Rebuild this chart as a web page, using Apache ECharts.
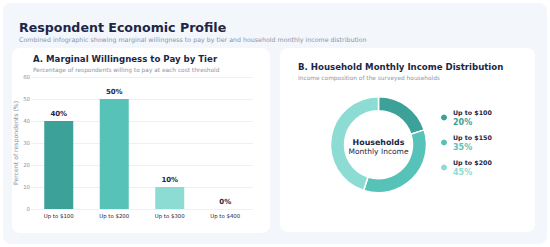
<!DOCTYPE html>
<html>
<head>
<meta charset="utf-8">
<script src="https://cdn.jsdelivr.net/npm/echarts@6/dist/echarts.min.js"></script>
<style>
html,body{margin:0;padding:0;background:#ffffff;}
#c{width:550px;height:247px;}
</style>
</head>
<body>
<div id="c"></div>
<script>
// ---- data ----
const tiers = ['Up to $100', 'Up to $200', 'Up to $300', 'Up to $400'];
const willingness = [40, 50, 10, 0];
const tierColors = ['#3ca198', '#57c3b8', '#8ddcd3', '#b9ece6'];
const incomeLabels = ['Up to $100', 'Up to $150', 'Up to $200'];
const incomeShares = [20, 35, 45];
const incomeColors = ['#3ca198', '#57c3b8', '#8ddcd3'];
const yMin = 0, yMax = 60, yStep = 10;

const FONT = 'DejaVu Sans';
const NAVY = '#1c2746';
const GRAY = '#8a94a8';

const chart = echarts.init(document.getElementById('c'), null, {renderer: 'svg'});

const rich = {n: {fontFamily: FONT, fontWeight: 'bold', fontSize: 6.3, color: NAVY, lineHeight: 9}};
incomeColors.forEach((c, i) => {
  rich['p' + i] = {fontFamily: FONT, fontWeight: 'bold', fontSize: 8, color: c, lineHeight: 11};
});

function txt(x, y, text, font, fill, align) {
  return {type: 'text', x: x, y: y, style: {text: text, font: font, fill: fill, align: align || 'left', verticalAlign: 'middle'}};
}

const option = {
  animation: false,
  textStyle: {fontFamily: FONT},
  graphic: [
    {type: 'rect', left: 3, top: 3, shape: {width: 544, height: 241, r: 8}, style: {fill: '#f3f6fb'}, z: -10},
    {type: 'rect', left: 12, top: 48, shape: {width: 258, height: 185, r: 8}, style: {fill: '#ffffff'}, z: -9},
    {type: 'rect', left: 280, top: 48, shape: {width: 255, height: 184, r: 8}, style: {fill: '#ffffff'}, z: -9},
    txt(19, 27, 'Respondent Economic Profile', 'bold 12.6px "DejaVu Sans"', NAVY),
    txt(19, 39, 'Combined infographic showing marginal willingness to pay by tier and household monthly income distribution', '6.3px "DejaVu Sans"', GRAY),
    txt(33, 58.5, 'A. Marginal Willingness to Pay by Tier', 'bold 8.6px "DejaVu Sans"', NAVY),
    txt(33, 69.5, 'Percentage of respondents willing to pay at each cost threshold', '5.85px "DejaVu Sans"', GRAY),
    txt(298, 67, 'B. Household Monthly Income Distribution', 'bold 8.6px "DejaVu Sans"', NAVY),
    txt(298, 77.5, 'Income composition of the surveyed households', '5.85px "DejaVu Sans"', GRAY),
    txt(378.5, 142, 'Households', 'bold 7.9px "DejaVu Sans"', NAVY, 'center'),
    txt(378.5, 151.5, 'Monthly Income', '7.5px "DejaVu Sans"', NAVY, 'center')
  ],
  grid: {left: 31, right: 550 - 253, top: 77, bottom: 247 - 209, containLabel: false},
  xAxis: {
    type: 'category',
    data: tiers,
    axisLine: {show: false},
    axisTick: {show: false},
    axisLabel: {fontFamily: FONT, fontSize: 5.4, color: NAVY, margin: 4.5}
  },
  yAxis: {
    type: 'value',
    min: yMin, max: yMax, interval: yStep,
    name: 'Percent of respondents (%)',
    nameLocation: 'middle',
    nameGap: 12.5,
    nameTextStyle: {fontFamily: FONT, fontSize: 6.2, color: GRAY},
    axisLabel: {fontFamily: FONT, fontSize: 5.4, color: GRAY, margin: 1},
    splitLine: {lineStyle: {color: '#edf0f5', width: 1}},
    axisLine: {show: false},
    axisTick: {show: false}
  },
  legend: {
    orient: 'vertical',
    left: 439,
    top: 109,
    padding: 0,
    itemGap: 8,
    icon: 'circle',
    itemWidth: 8,
    itemHeight: 8,
    data: incomeLabels,
    formatter: function (name) {
      const i = incomeLabels.indexOf(name);
      return '{n|' + name + '}\n{p' + i + '|' + incomeShares[i] + '%}';
    },
    textStyle: {rich: rich},
    selectedMode: false
  },
  series: [
    {
      type: 'bar',
      barWidth: 29,
      data: willingness.map((v, i) => ({value: v, itemStyle: {color: tierColors[i]}})),
      label: {
        show: true, position: 'top', distance: 4,
        formatter: '{c}%', fontFamily: FONT, fontWeight: 'bold', fontSize: 7, color: NAVY
      }
    },
    {
      type: 'pie',
      center: [378.5, 144.7],
      radius: [34, 48],
      startAngle: 90,
      clockwise: true,
      label: {show: false},
      labelLine: {show: false},
      itemStyle: {borderColor: '#ffffff', borderWidth: 1.5},
      data: incomeLabels.map((n, i) => ({name: n, value: incomeShares[i], itemStyle: {color: incomeColors[i]}}))
    }
  ]
};
chart.setOption(option);
</script>
</body>
</html>
